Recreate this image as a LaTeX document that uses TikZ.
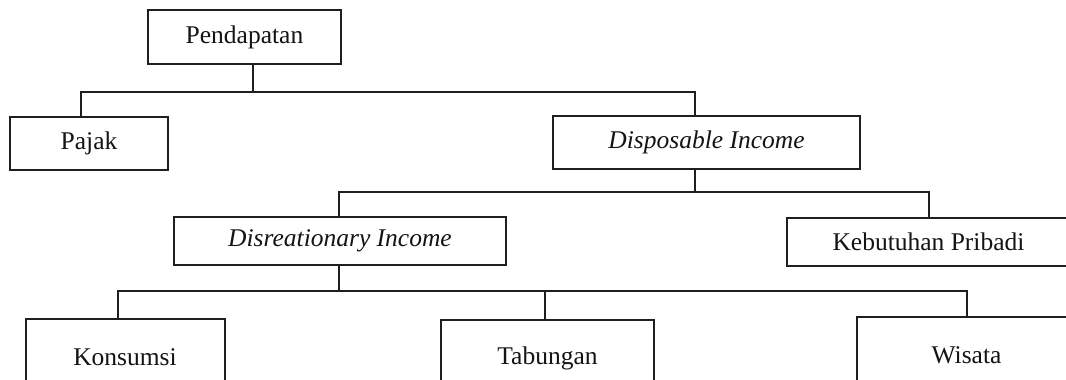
\documentclass[tikz,border=0pt]{standalone}
\usepackage{fontspec}
\setmainfont{Liberation Serif}
\begin{document}
\begin{tikzpicture}[x=1pt,y=-1pt,
  box/.style={draw=black!88, line width=2pt, rectangle, inner sep=0pt,
    font=\fontsize{25.5}{30}\selectfont, text=black!92},
  conn/.style={draw=black!88, line width=2pt}]
\useasboundingbox (0,0) rectangle (1066,380);
\fill[white] (0,0) rectangle (1066,380);
\node[box, minimum width=193pt, minimum height=54pt] (P) at (244.5,37) {Pendapatan};
\node[box, minimum width=158.5pt, minimum height=53pt] (Pj) at (89,143.5) {Pajak};
\node[box, minimum width=307pt, minimum height=53pt] (DI) at (706.5,142.5) {\itshape Disposable Income};
\node[box, minimum width=332pt, minimum height=48.5pt] (DR) at (340,241) {\itshape Disreationary Income};
\node[box, minimum width=283pt, minimum height=48.5pt] (KP) at (928.5,242) {Kebutuhan Pribadi};
\node[box, minimum width=199pt, minimum height=77pt] (K) at (125,357) {Konsumsi};
\node[box, minimum width=213pt, minimum height=76pt] (T) at (547.5,358) {Tabungan};
\node[box, minimum width=219pt, minimum height=77pt] (W) at (966.5,355) {Wisata};
% level 1
\coordinate (b1) at (253,92);
\draw[conn] (b1 |- P.south) -- (b1);
\draw[conn] (Pj.north -| 81,0) |- (b1) -| (DI.north -| 695,0);
% level 2
\coordinate (b2) at (695,192);
\draw[conn] (b2 |- DI.south) -- (b2);
\draw[conn] (DR.north -| 339,0) |- (b2) -| (KP.north -| 929,0);
% level 3
\coordinate (b3) at (339,291);
\draw[conn] (b3 |- DR.south) -- (b3);
\draw[conn] (K.north -| 118,0) |- (b3) -| (W.north -| 967,0);
\draw[conn] (T.north -| 545,0) -- (545,291);
\end{tikzpicture}
\end{document}
